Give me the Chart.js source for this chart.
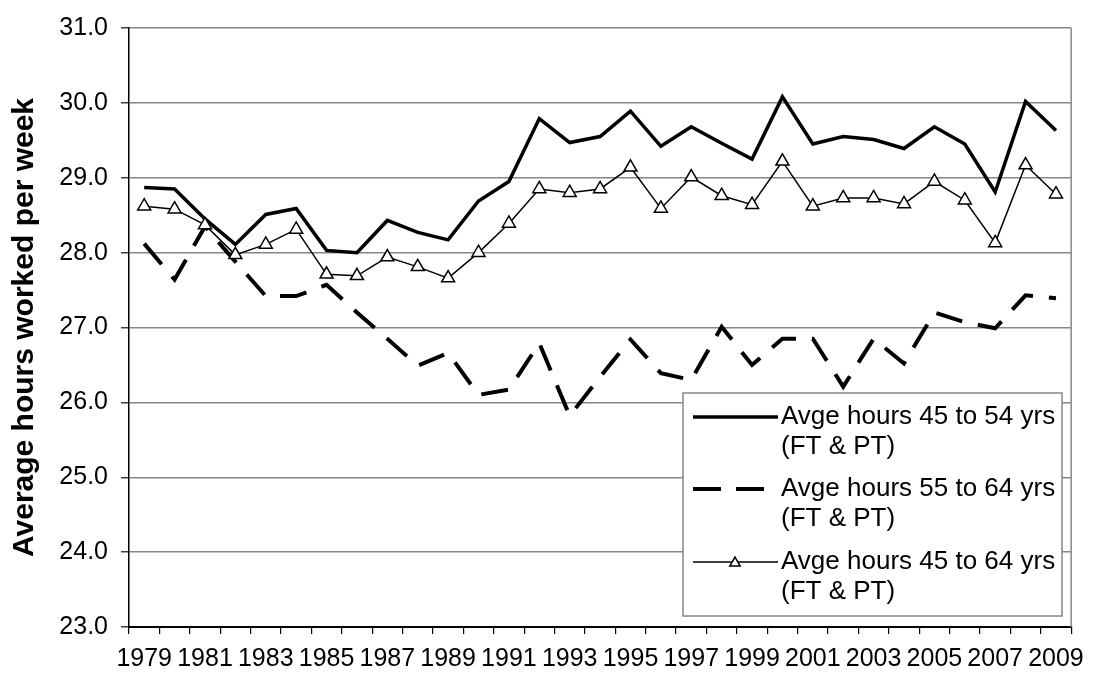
<!DOCTYPE html>
<html lang="en">
<head>
  <meta charset="UTF-8" />
  <title>Average hours worked per week</title>
  <script src="https://cdn.jsdelivr.net/npm/chart.js"></script>
  <style>
    html, body { margin: 0; padding: 0; background: #fff; }
    canvas { display: block; }
  </style>
</head>
<body>
  <canvas id="hoursChart" width="1094" height="676"></canvas>

  <script>
    // years on the category axis, one label shown every second year
    const years = ['1979','1980','1981','1982','1983','1984','1985','1986','1987','1988',
                   '1989','1990','1991','1992','1993','1994','1995','1996','1997','1998',
                   '1999','2000','2001','2002','2003','2004','2005','2006','2007','2008','2009'];

    // average weekly hours
    const hours45to54 = [28.87, 28.85, 28.45, 28.11, 28.51, 28.59, 28.03, 28.00, 28.43, 28.27,
                         28.17, 28.69, 28.95, 29.79, 29.47, 29.55, 29.89, 29.42, 29.68, 29.46,
                         29.25, 30.08, 29.45, 29.55, 29.51, 29.39, 29.68, 29.45, 28.81, 30.02, 29.63];
    const hours55to64 = [28.12, 27.64, 28.35, 27.88, 27.42, 27.42, 27.57, 27.20, 26.85, 26.49,
                         26.66, 26.10, 26.17, 26.79, 25.82, 26.34, 26.84, 26.39, 26.30, 27.01,
                         26.50, 26.85, 26.85, 26.21, 26.85, 26.52, 27.20, 27.07, 26.99, 27.43, 27.39];
    const hours45to64 = [28.62, 28.58, 28.37, 27.97, 28.11, 28.31, 27.71, 27.69, 27.94, 27.81,
                         27.66, 28.00, 28.39, 28.85, 28.80, 28.85, 29.14, 28.59, 29.01, 28.76,
                         28.64, 29.22, 28.62, 28.73, 28.73, 28.65, 28.95, 28.70, 28.13, 29.17, 28.78];

    const seriesNames = [
      ['Avge hours 45 to 54 yrs', '(FT & PT)'],
      ['Avge hours 55 to 64 yrs', '(FT & PT)'],
      ['Avge hours 45 to 64 yrs', '(FT & PT)']
    ];

    const yMin = 23, yMax = 31, yStep = 1;
    const yTitle = 'Average hours worked per week';

    const FONT = "'Liberation Sans', Arial, sans-serif";

    function triangle(ctx, x, y, r) {
      ctx.beginPath();
      for (let k = 0; k < 3; k++) {
        const a = k * 2 * Math.PI / 3;
        const px = x + Math.sin(a) * r, py = y - Math.cos(a) * r;
        if (k === 0) ctx.moveTo(px, py); else ctx.lineTo(px, py);
      }
      ctx.closePath();
      ctx.fill();
      ctx.stroke();
    }

    // right edge of the plot + boxed legend inside the plot (Excel style)
    const boxLegend = {
      id: 'boxLegend',
      beforeDatasetsDraw(chart) {
        const { ctx, chartArea: a } = chart;
        ctx.save();
        ctx.strokeStyle = '#868686';
        ctx.lineWidth = 1.5;
        ctx.beginPath();
        ctx.moveTo(a.right, a.top);
        ctx.lineTo(a.right, a.bottom);
        ctx.stroke();
        ctx.restore();
      },
      afterDraw(chart) {
        const ctx = chart.ctx;
        const box = { x: 683, y: 393, w: 379, h: 223 };
        ctx.save();
        ctx.fillStyle = '#fff';
        ctx.fillRect(box.x, box.y, box.w, box.h);
        ctx.strokeStyle = '#868686';
        ctx.lineWidth = 1.5;
        ctx.strokeRect(box.x, box.y, box.w, box.h);

        const rows = [417, 489, 562];
        ctx.font = '26px ' + FONT;
        ctx.textBaseline = 'middle';
        ctx.fillStyle = '#000';
        chart.data.datasets.forEach((ds, i) => {
          const y = rows[i];
          ctx.save();
          ctx.strokeStyle = '#000';
          ctx.lineWidth = ds.borderWidth;
          ctx.lineCap = 'butt';
          ctx.setLineDash(ds.borderDash ? [28, 15] : []);
          ctx.beginPath();
          ctx.moveTo(693, y);
          ctx.lineTo(ds.borderDash ? 766 : 778, y);
          ctx.stroke();
          ctx.setLineDash([]);
          if (ds.pointRadius > 0) {
            ctx.fillStyle = '#fff';
            ctx.lineWidth = ds.pointBorderWidth;
            triangle(ctx, 735, y + 1, 6);
          }
          ctx.restore();
          ctx.fillText(seriesNames[i][0], 781, y);
          ctx.fillText(seriesNames[i][1], 781, y + 30);
        });
        ctx.restore();
      }
    };

    new Chart(document.getElementById('hoursChart'), {
      type: 'line',
      data: {
        labels: years,
        datasets: [
          {
            label: seriesNames[0].join(' '),
            data: hours45to54,
            borderColor: '#000',
            borderWidth: 3.5,
            pointRadius: 0,
            tension: 0,
            order: 1
          },
          {
            label: seriesNames[1].join(' '),
            data: hours55to64,
            borderColor: '#000',
            borderWidth: 4,
            borderDash: [27, 16],
            borderCapStyle: 'butt',
            pointRadius: 0,
            tension: 0,
            order: 2
          },
          {
            label: seriesNames[2].join(' '),
            data: hours45to64,
            borderColor: '#000',
            borderWidth: 1.5,
            pointStyle: 'triangle',
            pointRadius: 7.5,
            pointBackgroundColor: '#fff',
            pointBorderColor: '#000',
            pointBorderWidth: 1.5,
            tension: 0,
            order: 0
          }
        ]
      },
      options: {
        responsive: false,
        animation: false,
        devicePixelRatio: 1,
        layout: { padding: { left: 0, right: 14, top: 24, bottom: 0 } },
        plugins: {
          legend: { display: false },
          tooltip: { enabled: false }
        },
        scales: {
          x: {
            type: 'category',
            offset: true,
            afterFit: s => { s.height = 49; },
            grid: {
              drawOnChartArea: false,
              offset: true,
              tickLength: 7,
              color: '#000',
              lineWidth: 1.2
            },
            border: { color: '#000', width: 2 },
            ticks: {
              autoSkip: false,
              maxRotation: 0,
              padding: 10,
              color: '#000',
              font: { family: FONT, size: 25 },
              callback: (v, i) => (i % 2 === 0 ? years[i] : '')
            }
          },
          y: {
            min: yMin,
            max: yMax,
            afterFit: s => { s.width = 129; },
            grid: {
              color: '#868686',
              lineWidth: 1.5,
              tickLength: 8,
              tickColor: '#404040'
            },
            border: { color: '#000', width: 1.5 },
            ticks: {
              stepSize: yStep,
              padding: 13,
              color: '#000',
              font: { family: FONT, size: 25 },
              callback: v => Number(v).toFixed(1)
            },
            title: {
              display: true,
              text: yTitle,
              color: '#000',
              font: { family: FONT, size: 30, weight: 'bold' },
              padding: { top: 7, bottom: 0 }
            }
          }
        }
      },
      plugins: [boxLegend]
    });
  </script>
</body>
</html>
